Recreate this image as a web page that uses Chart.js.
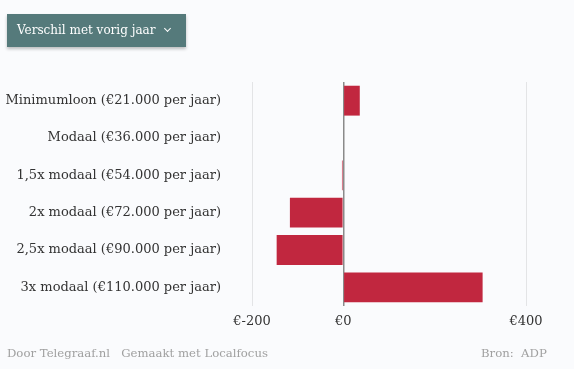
<!DOCTYPE html>
<html>
<head>
<meta charset="utf-8">
<script src="https://cdn.jsdelivr.net/npm/chart.js@4"></script>
<style>
  html, body { margin:0; padding:0; background:#fafbfd; }
  body { width:574px; height:369px; position:relative; overflow:hidden; font-family:"DejaVu Serif", serif; }
  #knop { position:absolute; left:7px; top:14px; width:179px; height:33px; background:#557a7b; color:#fff;
          font-size:12px; line-height:33px; box-sizing:border-box; padding-left:10px;
          box-shadow:0 2px 3px rgba(0,0,0,0.25); }
  #pijl { position:absolute; left:158px; top:12px; width:4px; height:4px;
          border-right:1.5px solid #fff; border-bottom:1.5px solid #fff; transform:rotate(45deg); }
  #wrap { position:absolute; left:0; top:0; width:574px; height:369px; }
  .voet { position:absolute; top:346px; font-size:11.7px; color:#a0a0a0; }
</style>
</head>
<body>
<div id="wrap"><canvas id="mycanvas1"></canvas></div>
<div id="knop">Verschil met vorig jaar<div id="pijl"></div></div>
<div class="voet" style="left:7px">Door Telegraaf.nl&nbsp;&nbsp; Gemaakt met Localfocus</div>
<div class="voet" style="left:481px">Bron:&nbsp; ADP</div>
<script>
// categorieen en waarden (verschil in euro's)
var categorieen = ["Minimumloon (€21.000 per jaar)", "Modaal (€36.000 per jaar)", "1,5x modaal (€54.000 per jaar)",
                   "2x modaal (€72.000 per jaar)", "2,5x modaal (€90.000 per jaar)", "3x modaal (€110.000 per jaar)"];
var verschil = [36, 0, -3, -117, -146, 305];
var tickWaarden = [-200, 0, 400];

var chartdata = {
	labels: categorieen,
	datasets: [{
		data: verschil,
		backgroundColor: '#c1273f',
		barPercentage: 0.8,
		categoryPercentage: 1.0
	}]
};

var ctx = document.getElementById("mycanvas1");
var grafiek = new Chart(ctx, {
	type: 'bar',
	data: chartdata,
	options: {
		indexAxis: 'y',
		responsive: true,
		maintainAspectRatio: false,
		animation: false,
		layout: { padding: { left: 0, right: 48, top: 82, bottom: 34 } },
		plugins: { legend: { display: false }, tooltip: { enabled: false } },
		scales: {
			x: {
				min: -200, max: 400,
				afterBuildTicks: function(scale) {
					scale.ticks = tickWaarden.map(function(v) { return { value: v }; });
				},
				afterFit: function(scale) { scale.height = 29; },
				border: { display: false },
				grid: {
					drawTicks: false,
					color: function(c) { return c.tick && c.tick.value === 0 ? '#8a8a8a' : '#e3e4e6'; },
					lineWidth: function(c) { return c.tick && c.tick.value === 0 ? 1.5 : 1; }
				},
				ticks: {
					padding: 8,
					color: '#333',
					font: { family: 'DejaVu Serif', size: 13 },
					callback: function(v) { return '€' + v; }
				}
			},
			y: {
				afterFit: function(scale) { scale.width = 252; },
				border: { display: false },
				grid: { display: false, drawTicks: false },
				ticks: {
					padding: 31,
					color: '#333',
					font: { family: 'DejaVu Serif', size: 13 }
				}
			}
		}
	}
});
</script>
</body>
</html>
